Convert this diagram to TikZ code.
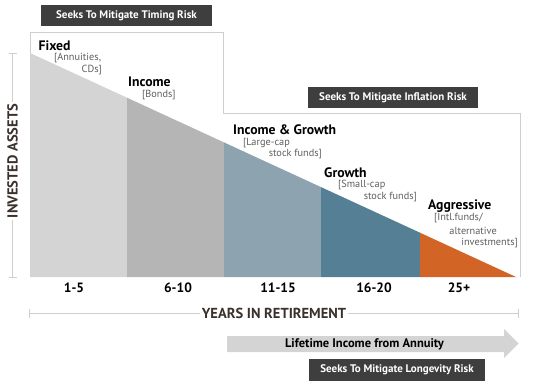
\documentclass[tikz,border=0pt]{standalone}
\usepackage{fontspec}
\setmainfont{PT Sans}
\definecolor{fixedc}{HTML}{D4D4D4}
\definecolor{incomec}{HTML}{B5B5B5}
\definecolor{igc}{HTML}{8DA3AF}
\definecolor{growthc}{HTML}{557F94}
\definecolor{aggc}{HTML}{D26426}
\definecolor{darkbox}{HTML}{3E3E3E}
\definecolor{outlinec}{HTML}{CFCFCF}
\definecolor{axistext}{HTML}{3A302C}
\definecolor{subtext}{HTML}{5E5E5E}
\begin{document}
\begin{tikzpicture}[x=1pt,y=-1pt,
  riskbox/.style={fill=darkbox,text=white,inner sep=0pt,minimum height=21pt,font=\fontsize{11}{12}\selectfont\bfseries},
  cat/.style={inner sep=0pt,anchor=west,font=\fontsize{13.7}{15}\selectfont\bfseries,text=black},
  sub/.style={inner sep=0pt,font=\fontsize{10.3}{11}\selectfont,text=subtext},
  yr/.style={inner sep=0pt,font=\fontsize{13.5}{15}\selectfont\bfseries,text=black},
  axlab/.style={inner sep=2pt,font=\fontsize{14.5}{16}\selectfont\bfseries,text=axistext},
  axline/.style={draw=outlinec,line width=0.8pt},
  frame/.style={draw=outlinec,line width=0.8pt}]
\useasboundingbox (0,0) rectangle (560,385);
% frames
\draw[frame] (30,277) -- (30,32) -- (223,32) -- (223,113) -- (520,113) -- (520,277);
% areas
\fill[fixedc] (30,53) -- (127,97.7) -- (127,277) -- (30,277) -- cycle;
\fill[incomec] (127,97.7) -- (224,142.4) -- (224,277) -- (127,277) -- cycle;
\fill[igc] (224,142.4) -- (321,187.1) -- (321,277) -- (224,277) -- cycle;
\fill[growthc] (321,187.1) -- (420,232.7) -- (420,277) -- (321,277) -- cycle;
\fill[aggc] (420,232.7) -- (516,277) -- (420,277) -- cycle;
% risk boxes
\node[riskbox,minimum width=171pt] (timing) at (126.5,15.5) {Seeks To Mitigate Timing Risk};
\node[riskbox,minimum width=170pt] (inflation) at (393,97.5) {Seeks To Mitigate Inflation Risk};
\node[riskbox,minimum width=176pt,minimum height=22pt] (longevity) at (397,370) {Seeks To Mitigate Longevity Risk};
% category labels
\node[cat] (fixed) at (38.5,46) {Fixed};
\node[sub,anchor=west] (fixs1) at (54,58) {[Annuities,};
\node[sub,anchor=east] (fixs2) at (102,70) {CDs]};
\node[cat] (income) at (128,82) {Income};
\node[sub,anchor=west] (incs1) at (142,95) {[Bonds]};
\node[cat] (ig) at (233,130) {Income \& Growth};
\node[sub,anchor=west] (igs1) at (243,143) {[Large-cap};
\node[sub,anchor=east] (igs2) at (322,154.5) {stock funds]};
\node[cat] (growth) at (324,173) {Growth};
\node[sub,anchor=west] (grs1) at (338,185) {[Small-cap};
\node[sub,anchor=east] (grs2) at (417,197) {stock funds]};
\node[cat] (agg) at (428,206) {Aggressive};
\node[sub,anchor=west] (ags1) at (434,218.5) {[Intl.funds/};
\node[sub,anchor=east] (ags2) at (497,231) {alternative};
\node[sub,anchor=east] (ags3) at (518,243) {investments]};
% year labels
\node[yr] (y1) at (74,288) {1-5};
\node[yr] (y2) at (178,288) {6-10};
\node[yr] (y3) at (278,288) {11-15};
\node[yr] (y4) at (374,288) {16-20};
\node[yr] (y5) at (459,288) {25+};
% y axis
\node[axlab,rotate=90] (ylab) at (12.5,161) {INVESTED ASSETS};
\coordinate (ytop) at (12.5,53);
\coordinate (ybot) at (12.5,277);
\draw[axline] (ytop) -- (ylab.east);
\draw[axline] (ylab.west) -- (ybot);
\draw[axline] (8.5,53) -- (16.5,53);
\draw[axline] (8.5,277) -- (16.5,277);
% x axis
\node[axlab] (xlab) at (274,313) {YEARS IN RETIREMENT};
\coordinate (xl) at (29.5,313);
\coordinate (xr) at (518,313);
\draw[axline] (xl) -- (xlab.west);
\draw[axline] (xlab.east) -- (xr);
\draw[axline] (29.5,308.5) -- (29.5,317.5);
\draw[axline] (518,308.5) -- (518,317.5);
% annuity arrow
\fill[fixedc] (227,336) -- (504,336) -- (504,329) -- (518.5,343.5) -- (504,358) -- (504,352) -- (227,352) -- cycle;
\node[inner sep=0pt,font=\fontsize{12.5}{14}\selectfont\bfseries,text=black] (annuity) at (364.5,344) {Lifetime Income from Annuity};
\end{tikzpicture}
\end{document}
